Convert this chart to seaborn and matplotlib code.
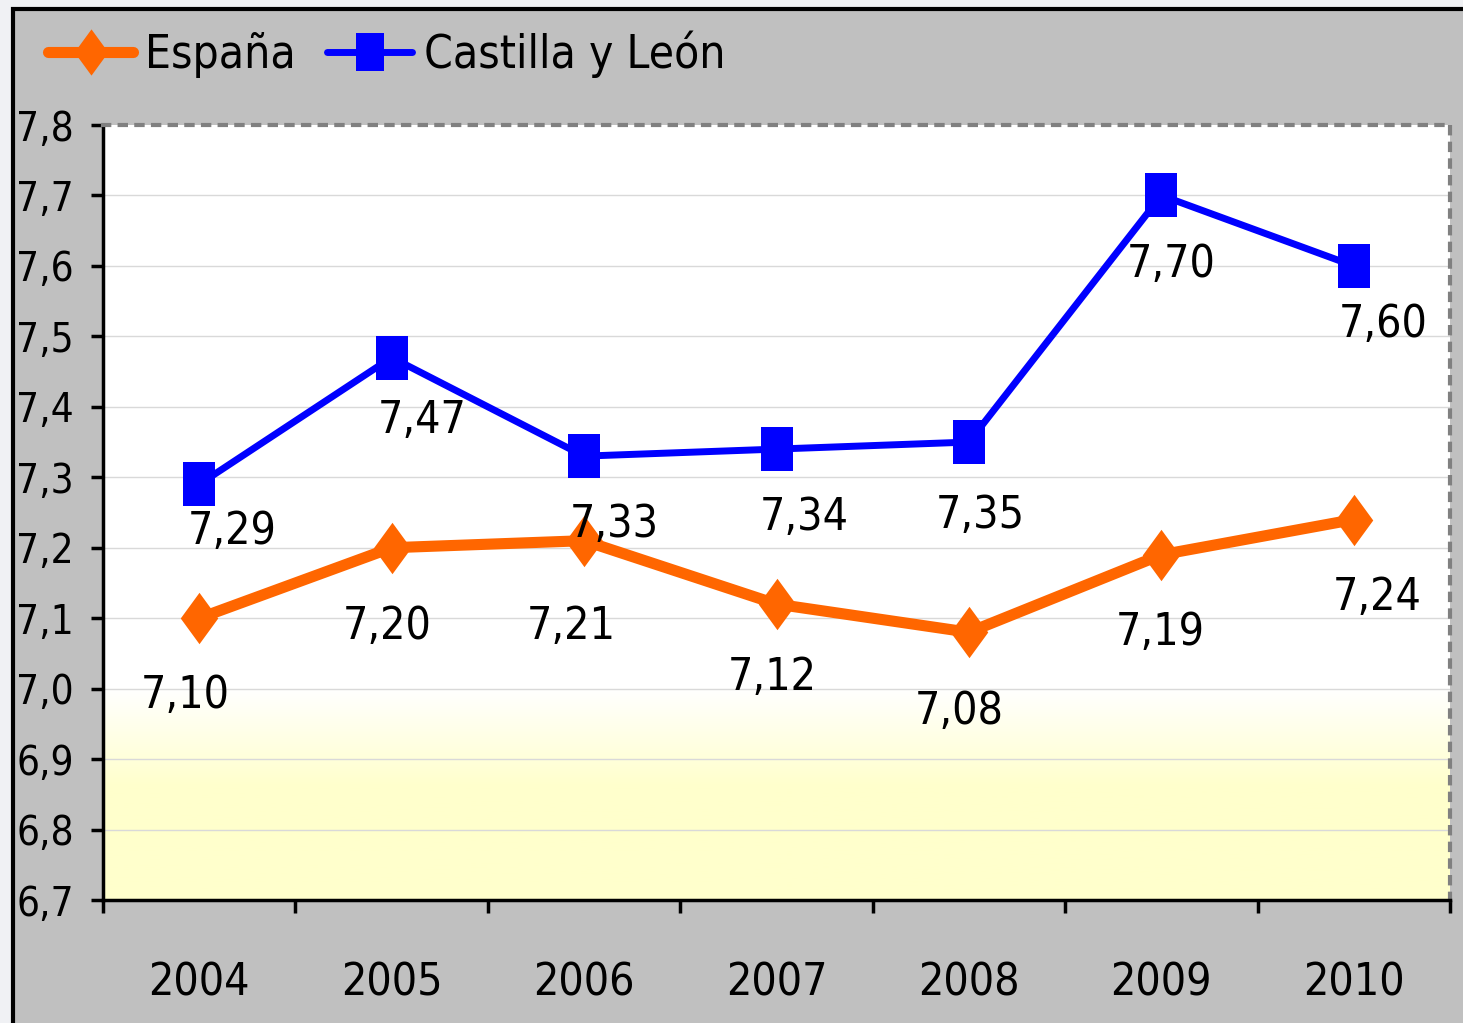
import numpy as np
import pandas as pd
import matplotlib
matplotlib.use("Agg")
import matplotlib.pyplot as plt
import seaborn as sns
from matplotlib.colors import LinearSegmentedColormap
from matplotlib.patches import Rectangle
from matplotlib.ticker import FuncFormatter

# values
years = ["2004", "2005", "2006", "2007", "2008", "2009", "2010"]
espana = [7.10, 7.20, 7.21, 7.12, 7.08, 7.19, 7.24]
castilla = [7.29, 7.47, 7.33, 7.34, 7.35, 7.70, 7.60]
series_names = ["España", "Castilla y León"]

# label offsets (points) relative to each marker
esp_offsets = [(-10, -56), (-3, -57), (-9, -62), (-3, -53), (-7, -57), (-1, -56), (17, -56)]
cyl_offsets = [(24, -34), (22, -45), (22, -49), (20, -49), (8, -53), (7, -50), (21, -42)]

sns.set_theme(style="white")
plt.rcParams["font.family"] = ["DejaVu Sans"]
plt.rcParams["font.stretch"] = "condensed"
plt.rcParams["text.color"] = "black"
plt.rcParams["xtick.color"] = "black"
plt.rcParams["ytick.color"] = "black"

df = pd.DataFrame({
    "pos": list(range(len(years))) * 2,
    "value": espana + castilla,
    "serie": [series_names[0]] * len(years) + [series_names[1]] * len(years),
})

diamond = [(0, 1), (0.73, 0), (0, -1), (-0.73, 0), (0, 1)]
rect = [(-0.74, -1), (0.74, -1), (0.74, 1), (-0.74, 1), (-0.74, -1)]
styles = {
    "España": dict(color="#FF6600", marker=diamond, ms=37, lw=8),
    "Castilla y León": dict(color="#0000FF", marker=rect, ms=31, lw=5),
}

fig = plt.figure(figsize=(14.63, 10.23), dpi=100, facecolor="#F0F1F4")
fig.patches.append(Rectangle((13 / 1463, -0.02), 1.1, 1.02 - 9 / 1023,
                             transform=fig.transFigure, facecolor="#C0C0C0",
                             edgecolor="black", lw=3, zorder=-10))
ax = fig.add_axes([103 / 1463, 1 - 900 / 1023, 1347 / 1463, 775 / 1023])

# white -> light yellow background gradient
cmap = LinearSegmentedColormap.from_list("bg", ["#FFFFCC", "#FFFFFF"])
grad = np.clip((np.linspace(6.7, 7.8, 400) - 6.86) / 0.14, 0, 1)[:, None]
ax.imshow(grad, extent=[-0.5, 6.5, 6.7, 7.8], origin="lower", aspect="auto",
          cmap=cmap, vmin=0, vmax=1, zorder=0)

for y in np.arange(6.8, 7.75, 0.1):
    ax.axhline(y, color="#D9D9D9", lw=1, zorder=1)

for name in series_names:
    st = styles[name]
    sns.lineplot(data=df[df["serie"] == name], x="pos", y="value", ax=ax,
                 color=st["color"], marker=st["marker"], markersize=st["ms"],
                 linewidth=st["lw"], markeredgewidth=0, label=name, zorder=3)

for vals, offs in [(espana, esp_offsets), (castilla, cyl_offsets)]:
    for i, (v, off) in enumerate(zip(vals, offs)):
        ax.annotate(f"{v:.2f}".replace(".", ","), (i, v), xytext=off,
                    textcoords="offset points", ha="center", va="center",
                    fontsize=32, color="black", zorder=5)

ax.set_xlim(-0.5, 6.5)
ax.set_ylim(6.7, 7.8)
ax.set_yticks(np.round(np.arange(6.7, 7.85, 0.1), 1))
ax.yaxis.set_major_formatter(FuncFormatter(lambda v, p: f"{v:.1f}".replace(".", ",")))
ax.set_xticks(range(len(years)))
ax.set_xticklabels(years)
ax.set_xticks(np.arange(-0.5, 7, 1), minor=True)
ax.tick_params(axis="x", which="major", length=0, pad=44, labelsize=32)
ax.tick_params(axis="x", which="minor", length=9, width=2.5, color="black", bottom=True)
ax.tick_params(axis="y", length=9, width=2.5, color="black", left=True, pad=12, labelsize=29)
ax.set_xlabel("")
ax.set_ylabel("")

ax.spines["left"].set_color("black")
ax.spines["left"].set_linewidth(2.5)
ax.spines["bottom"].set_color("black")
ax.spines["bottom"].set_linewidth(2.5)
for s in ["top", "right"]:
    ax.spines[s].set_color("#808080")
    ax.spines[s].set_linewidth(3)
    ax.spines[s].set_linestyle((0, (1.5, 2.5)))

handles, labels = ax.get_legend_handles_labels()
ax.get_legend().remove()
fig.legend(handles, labels, loc="upper left", bbox_to_anchor=(30 / 1463, 1 - 12 / 1023),
           ncol=2, frameon=False, fontsize=33, handlelength=1.85, handletextpad=0.25,
           columnspacing=0.7, borderaxespad=0, markerscale=0.9)

fig.savefig("out.png", dpi=100, facecolor=fig.get_facecolor())
